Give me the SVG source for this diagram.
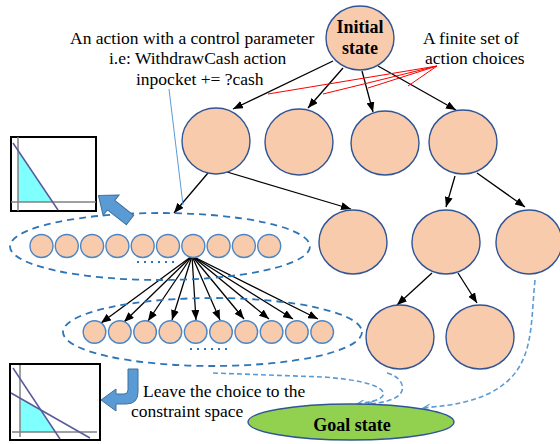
<svg xmlns="http://www.w3.org/2000/svg" width="560" height="444" viewBox="0 0 560 444">
<style>
.big{fill:#f8cbad;stroke:#2f5597;stroke-width:1.4}
.sm{fill:#f8cbad;stroke:#4a86c6;stroke-width:1.4}
.dash{fill:none;stroke:#2e75b6;stroke-width:1.8;stroke-dasharray:7,5}
.arr{stroke:#000;stroke-width:1.3;fill:none;marker-end:url(#ah)}
.red{stroke:#ff0000;stroke-width:1;fill:none}
.gd{fill:none;stroke:#5b9bd5;stroke-width:1.6;stroke-dasharray:5,3;marker-end:url(#oh)}
.t{font-family:"Liberation Serif","Times New Roman",serif;font-size:17.5px;fill:#000}
.b{font-family:"Liberation Serif","Times New Roman",serif;font-size:18px;font-weight:bold;fill:#000;text-anchor:middle}
.ax{stroke:#808080;stroke-width:1.5}
.ln{stroke:#5a5a9a;stroke-width:1.5}
.dots{stroke:#2e75b6;stroke-width:2;stroke-dasharray:2,5}
.blk{fill:#5b9bd5;stroke:#41719c;stroke-width:1}
</style>
<defs>
<marker id="ah" markerUnits="userSpaceOnUse" markerWidth="10" markerHeight="8" viewBox="0 0 10 8" refX="10" refY="4" orient="auto"><path d="M0,0 L10,4 L0,8 z" fill="#000"/></marker>
<marker id="oh" markerUnits="userSpaceOnUse" markerWidth="8" markerHeight="8" viewBox="0 0 8 8" refX="7" refY="4" orient="auto"><path d="M0,1 L7,4 L0,7" fill="none" stroke="#5b9bd5" stroke-width="1.2"/></marker>
</defs>

<g id="connectors">
<line class="arr" x1="333" y1="61" x2="233" y2="109"/>
<line class="arr" x1="343" y1="68" x2="308" y2="108"/>
<line class="arr" x1="362" y1="71" x2="373" y2="112"/>
<line class="arr" x1="378" y1="66" x2="456" y2="110"/>
<line class="arr" x1="208" y1="173" x2="174" y2="213"/>
<line class="arr" x1="227" y1="172" x2="351" y2="209"/>
<line class="arr" x1="455" y1="176" x2="446" y2="207"/>
<line class="arr" x1="477" y1="173" x2="525" y2="207"/>
<line class="arr" x1="432" y1="273" x2="397" y2="305"/>
<line class="arr" x1="458" y1="273" x2="477" y2="303"/>
<line class="arr" x1="192" y1="256" x2="101" y2="323"/>
<line class="arr" x1="192" y1="256" x2="124" y2="322"/>
<line class="arr" x1="192" y1="256" x2="148" y2="321"/>
<line class="arr" x1="192" y1="256" x2="172" y2="320"/>
<line class="arr" x1="192" y1="256" x2="196" y2="320"/>
<line class="arr" x1="192" y1="256" x2="220" y2="320"/>
<line class="arr" x1="192" y1="256" x2="244" y2="319"/>
<line class="arr" x1="192" y1="256" x2="269" y2="319"/>
<line class="arr" x1="192" y1="256" x2="293" y2="319"/>
<line class="arr" x1="192" y1="256" x2="318" y2="319"/>
<line class="red" x1="437" y1="66" x2="268" y2="94"/>
<line class="red" x1="437" y1="66" x2="323" y2="94"/>
<line class="red" x1="437" y1="66" x2="368" y2="88"/>
<line class="red" x1="437" y1="66" x2="408" y2="86"/>
<line x1="169" y1="89" x2="183" y2="205" stroke="#5b9bd5" stroke-width="1"/>
<path class="gd" d="M535,280 C530,330 535,370 490,393 C465,405 440,406 423,408"/>
<path class="gd" d="M213,373 L323,377 C350,379 378,383 383,392 C386,399 372,402 357,404"/>
<path class="gd" d="M387,373 C400,376 408,388 398,396 C390,402 378,403 368,404"/>
</g>

<g id="initial"><ellipse class="big" cx="360" cy="38" rx="34" ry="32"/><text class="b" x="360" y="33">Initial</text><text class="b" x="360" y="54">state</text></g>
<g id="n1"><ellipse class="big" cx="216" cy="141" rx="34" ry="33"/></g>
<g id="n2"><ellipse class="big" cx="299" cy="142" rx="34" ry="33"/></g>
<g id="n3"><ellipse class="big" cx="385" cy="143" rx="34" ry="32"/></g>
<g id="n4"><ellipse class="big" cx="463" cy="142" rx="34" ry="32"/></g>
<g id="nA"><ellipse class="big" cx="353" cy="242" rx="34" ry="32"/></g>
<g id="nB"><ellipse class="big" cx="446" cy="242" rx="34" ry="32"/></g>
<g id="nC"><ellipse class="big" cx="529" cy="242" rx="33" ry="32"/></g>
<g id="nD"><ellipse class="big" cx="400" cy="337" rx="34" ry="32"/></g>
<g id="nE"><ellipse class="big" cx="480" cy="337" rx="34" ry="32"/></g>
<g id="goal"><ellipse cx="351" cy="422" rx="103" ry="18" fill="#92d050" stroke="#2f5597" stroke-width="1.4"/><text class="b" x="352" y="431">Goal state</text></g>

<g id="upper-set">
<ellipse class="dash" cx="160" cy="246.5" rx="150" ry="33.5"/>
<circle class="sm" cx="41.5" cy="246" r="11.5"/>
<circle class="sm" cx="66.8" cy="246" r="11.5"/>
<circle class="sm" cx="92.1" cy="246" r="11.5"/>
<circle class="sm" cx="117.4" cy="246" r="11.5"/>
<circle class="sm" cx="142.7" cy="246" r="11.5"/>
<circle class="sm" cx="168" cy="246" r="11.5"/>
<circle class="sm" cx="193.3" cy="246" r="11.5"/>
<circle class="sm" cx="218.6" cy="246" r="11.5"/>
<circle class="sm" cx="243.9" cy="246" r="11.5"/>
<circle class="sm" cx="269.2" cy="246" r="11.5"/>
<line class="dots" x1="137" y1="262" x2="178" y2="262"/>
</g>

<g id="lower-set">
<ellipse class="dash" cx="212.5" cy="332" rx="149.5" ry="34"/>
<circle class="sm" cx="94.5" cy="332" r="11.3"/>
<circle class="sm" cx="119.8" cy="332" r="11.3"/>
<circle class="sm" cx="145.1" cy="332" r="11.3"/>
<circle class="sm" cx="170.4" cy="332" r="11.3"/>
<circle class="sm" cx="195.7" cy="332" r="11.3"/>
<circle class="sm" cx="221" cy="332" r="11.3"/>
<circle class="sm" cx="246.3" cy="332" r="11.3"/>
<circle class="sm" cx="271.6" cy="332" r="11.3"/>
<circle class="sm" cx="296.9" cy="332" r="11.3"/>
<circle class="sm" cx="322.2" cy="332" r="11.3"/>
<line class="dots" x1="190" y1="349" x2="231" y2="349"/>
</g>

<g id="graph-top">
<rect x="11" y="137" width="85" height="74" fill="#fff" stroke="#000" stroke-width="2"/>
<polygon points="18,150 18,202 52.6,202" fill="#80ffff"/>
<line class="ax" x1="18" y1="137" x2="18" y2="211"/>
<line class="ax" x1="11" y1="202" x2="96" y2="202"/>
<line class="ln" x1="13" y1="143" x2="58" y2="210"/>
</g>
<polygon id="arrow-top" class="blk" points="0,-6 24,-6 24,-13 40,0 24,13 24,6 0,6" transform="translate(130,220) rotate(218)"/>

<g id="graph-bottom">
<rect x="10" y="364" width="90" height="76" fill="#fff" stroke="#000" stroke-width="2"/>
<polygon points="20,398 40.8,410 55.4,432 20,432" fill="#80ffff"/>
<line class="ax" x1="20" y1="365" x2="20" y2="437"/>
<line class="ax" x1="12" y1="432" x2="97" y2="432"/>
<line class="ln" x1="13" y1="368" x2="60" y2="439"/>
<line class="ln" x1="11" y1="393" x2="90" y2="438"/>
</g>
<path id="arrow-bottom" class="blk" d="M138,369 L138,392 Q138,404 126,404 L116,404 L116,411 L101,400 L116,389 L116,394 L124,394 Q128,394 128,390 L128,369 Z"/>

<g id="labels">
<text class="t" x="70" y="44">An action with a control parameter</text>
<text class="t" x="109" y="64">i.e: WithdrawCash action</text>
<text class="t" x="136" y="85">inpocket += ?cash</text>
<text class="t" x="423" y="44">A finite set of</text>
<text class="t" x="425" y="64">action choices</text>
<text class="t" x="143" y="397">Leave the choice to the</text>
<text class="t" x="131" y="417">constraint space</text>
</g>
</svg>
